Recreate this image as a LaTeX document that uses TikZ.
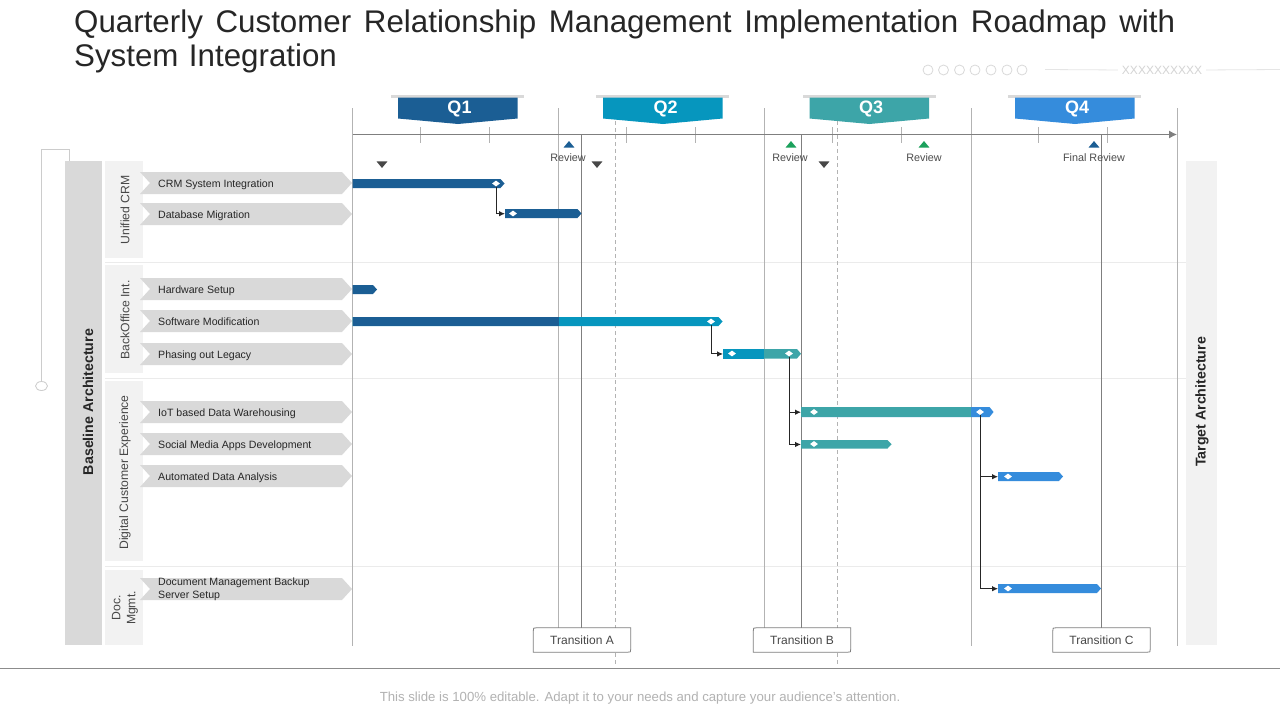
\documentclass[tikz,border=0pt]{standalone}
\usepackage{fontspec}
\setmainfont{Liberation Sans}
\usetikzlibrary{arrows.meta,shapes.geometric,shapes.misc,calc}
\definecolor{cqa}{HTML}{1B5E94}
\definecolor{cqb}{HTML}{0696BE}
\definecolor{cqc}{HTML}{3DA5A8}
\definecolor{cqd}{HTML}{358CDC}
\definecolor{chev}{HTML}{D9D9D9}
\definecolor{pale}{HTML}{F2F2F2}
\definecolor{txt}{HTML}{262626}
\definecolor{vline}{HTML}{B3B3B3}
\definecolor{dline}{HTML}{7F7F7F}
\definecolor{okgreen}{HTML}{1BA15C}
\tikzset{
  x=1pt,y=-1pt,
  every node/.style={font=\fontsize{10.6}{13}\selectfont,text=txt,inner sep=0pt},
  mark diamond/.style={diamond,fill=white,minimum width=8pt,minimum height=6pt},
  link/.style={draw=black!85,line width=1pt,-{Latex[length=6pt,width=5.5pt]}},
  grid light/.style={draw=vline,line width=.9pt},
  grid dark/.style={draw=dline,line width=.9pt},
  grid dash/.style={draw=vline,line width=.8pt,dash pattern=on 4pt off 3pt},
  tick mark/.style={draw=vline,line width=.8pt},
  sep line/.style={draw=black!8,line width=.8pt},
  review text/.style={font=\fontsize{10.8}{13}\selectfont,text=black!70},
  vert text/.style={rotate=90,font=\fontsize{12.2}{13}\selectfont,text=black!72,align=center},
  side text/.style={rotate=90,font=\bfseries\fontsize{14.2}{16}\selectfont,text=txt},
  transition box/.style={fill=white,minimum width=97pt,minimum height=24pt,font=\fontsize{12}{14}\selectfont,text=black!72},
  transition edge/.style={draw=dline,line width=.8pt},
  up mark/.style={isosceles triangle,isosceles triangle apex angle=80,shape border rotate=90,minimum height=6.5pt,minimum width=10pt},
  down mark/.style={isosceles triangle,isosceles triangle apex angle=80,shape border rotate=-90,minimum height=6.5pt,minimum width=10pt,fill=black!72},
  decor/.style={draw=black!20,line width=.8pt},
  dot/.style={circle,draw=black!15,line width=.8pt,minimum size=10pt},
  qtext/.style={font=\bfseries\fontsize{18}{20}\selectfont,text=white},
}
% chevron label: name, centre y, text
\newcommand{\chevlabel}[3]{%
  \fill[chev] (140,#2-11)--(342,#2-11)--(352,#2)--(342,#2+11)--(140,#2+11)--(150,#2)--cycle;
  \node[anchor=base west,align=left] (#1) at (158,#2+4.2) {#3};}
% bar: name, x1, x2, top, bottom, colour
\newcommand{\gbar}[6]{%
  \fill[#6] (#2,#4)--(#3-4,#4)--(#3,#4/2+#5/2)--(#3-4,#5)--(#2,#5)--cycle;
  \pgfmathsetmacro{\bw}{#3-#2}\pgfmathsetmacro{\bh}{#5-#4}
  \node[minimum width=\bw pt,minimum height=\bh pt,anchor=north west] (#1) at (#2,#4) {};}
% quarter header: name, x of band left, colour, text, text x
\newcommand{\qhead}[5]{%
  \fill[chev] (#2-7,95)rectangle(#2+126,97.5);
  \fill[#3] (#2,97.5)--(#2+119.5,97.5)--(#2+119.5,118.5)--(#2+60,124)--(#2,118.5)--cycle;
  \node[qtext] (#1) at (#5,109) {#4};}
\begin{document}
\begin{tikzpicture}
\useasboundingbox (0,0) rectangle (1280,720);
\fill[white] (0,0) rectangle (1280,720);

% title
\node[anchor=north west,text width=1101pt,align=left,font=\fontsize{31.3}{34}\selectfont,text=black!85] (title) at (74,10)
  {\hbox to 1101pt{Quarterly\hfill Customer\hfill Relationship\hfill Management\hfill Implementation\hfill Roadmap\hfill with}\\System Integration};

% top-right decoration
\foreach \i/\x in {1/928,2/943.5,3/959.5,4/975,5/991,6/1007,7/1022}
  \node[dot] (dot\i) at (\x,70) {};
\node[font=\fontsize{12}{14}\selectfont,text=black!17] (xs) at (1162,70) {XXXXXXXXXX};
\coordinate (decA) at (1045,69.5);
\coordinate (decB) at (1280,69.5);
\draw[draw=black!10,line width=.8pt,shorten >=4pt] (decA) -- (xs.west);
\draw[draw=black!10,line width=.8pt,shorten <=4pt] (xs.east) -- (decB);

% left panels
\fill[chev] (65,161) rectangle (102,645);
\node[side text] (base) at (88,402) {Baseline Architecture};
\fill[pale] (105,161) rectangle (143,258);
\fill[pale] (105,265) rectangle (143,373);
\fill[pale] (105,381) rectangle (143,561);
\fill[pale] (105,570) rectangle (143,645);
\node[vert text] (g1) at (125,210) {Unified CRM};
\node[vert text] (g2) at (125,320) {BackOffice Int.};
\node[vert text] (g3) at (125,472.5) {Digital Customer Experience};
\node[vert text,font=\fontsize{12.2}{15}\selectfont] (g4) at (125,608) {Doc.\\Mgmt.};
\fill[pale] (1186,161) rectangle (1217,645);
\node[side text] (target) at (1202,402) {Target Architecture};

% left bracket
\node[ellipse,draw=black!20,line width=.8pt,minimum width=12pt,minimum height=9pt] (ring) at (41.5,386) {};
\coordinate (brk) at (69,161);
\draw[decor] (ring.north) |- (69,149.5) -- (brk);

% row separators
\foreach \y in {262.5,378.5,566.5}
  \draw[sep line] (105,\y) -- (1186,\y);

% grid
\foreach \n/\x/\b in {a/352.5/646,b/558.5/628,c/764.5/628,d/971/646,e/1177/646}{
  \coordinate (gt\n) at (\x,108);
  \coordinate (gb\n) at (\x,\b);
  \draw[grid light] (gt\n) -- (gb\n);
}
\foreach \n/\x in {a/615,b/837}{
  \coordinate (dt\n) at (\x,121);
  \coordinate (db\n) at (\x,666);
  \draw[grid dash] (dt\n) -- (db\n);
}
\foreach \x in {420.5,489,558.5,626,695,764.5,832,901,971,1038,1107}
  \draw[tick mark] (\x,127) -- (\x,143);

% axis
\coordinate (ax0) at (352.5,134.5);
\coordinate (ax1) at (1177,134.5);
\draw[draw=dline,line width=1pt,-{Latex[length=8pt,width=8pt]}] (ax0) -- (ax1);

% quarter headers
\qhead{q1}{398}{cqa}{Q1}{459.5}
\qhead{q2}{603}{cqb}{Q2}{665.5}
\qhead{q3}{809.5}{cqc}{Q3}{871}
\qhead{q4}{1015}{cqd}{Q4}{1077}

% transitions
\node[transition box] (ta) at (582,640) {Transition A};
\node[transition box] (tb) at (802,640) {Transition B};
\node[transition box] (tc) at (1101.5,640) {Transition C};
\foreach \n in {ta,tb,tc}
  \draw[transition edge] ($(\n.north west)+(3,0)$) -- (\n.north east) -- ($(\n.south east)+(0,-3)$)
    .. controls (\n.south east) .. ($(\n.south east)+(-3,0)$) -- (\n.south west) -- ($(\n.north west)+(0,3)$)
    .. controls (\n.north west) .. ($(\n.north west)+(3,0)$);
\coordinate (tat) at (581,135);
\coordinate (tbt) at (801,135);
\coordinate (tct) at (1101,135);
\draw[grid dark] (tat) -- (tat |- ta.north);
\draw[grid dark] (tbt) -- (tbt |- tb.north);
\draw[grid dark] (tct) -- (tct |- tc.north);

% review marks
\node[up mark,fill=cqa] (m1) at (569,145) {};
\node[up mark,fill=okgreen] (m2) at (791,145) {};
\node[up mark,fill=okgreen] (m3) at (924,145) {};
\node[up mark,fill=cqa] (m4) at (1094,145) {};
\node[review text] (r1) at (568,157.3) {Review};
\node[review text] (r2) at (790,157.3) {Review};
\node[review text] (r3) at (924,157.3) {Review};
\node[review text] (r4) at (1094,157.3) {Final Review};
\node[down mark] (v1) at (382,164) {};
\node[down mark] (v2) at (597,164) {};
\node[down mark] (v3) at (824,164) {};

% chevron labels
\chevlabel{l1}{183}{CRM  System Integration}
\chevlabel{l2}{214}{Database Migration}
\chevlabel{l3}{289}{Hardware Setup}
\chevlabel{l4}{321}{Software Modification}
\chevlabel{l5}{354}{Phasing out Legacy}
\chevlabel{l6}{412}{IoT based Data Warehousing}
\chevlabel{l7}{444}{Social Media Apps Development}
\chevlabel{l8}{476}{Automated Data Analysis}
\fill[chev] (140,578)--(342,578)--(352,589)--(342,600)--(140,600)--(150,589)--cycle;
\node[anchor=west,align=left] (l9) at (158,589) {Document Management Backup\\Server Setup};

% bars
\gbar{b1}{352.5}{504.5}{179}{188}{cqa}
\gbar{b2}{505}{581.5}{209}{218}{cqa}
\gbar{b3}{352.5}{377}{285}{294}{cqa}
\gbar{b4}{352.5}{722.5}{317}{326}{cqb}
\fill[cqa] (352.5,317) rectangle (558.5,326);
\gbar{b5}{723}{801}{349}{358.5}{cqc}
\fill[cqb] (723,349) rectangle (764,358.5);
\gbar{b6}{801}{993.5}{407}{417}{cqd}
\fill[cqc] (801,407) rectangle (970.5,417);
\gbar{b7}{801}{891.5}{440}{448.5}{cqc}
\gbar{b8}{998}{1063}{472}{481}{cqd}
\gbar{b9}{998}{1101}{584}{593}{cqd}

% diamonds
\node[mark diamond] (d1) at (496,183.5) {};
\node[mark diamond] (d2) at (513,213.5) {};
\node[mark diamond] (d4) at (711,321.5) {};
\node[mark diamond] (d5a) at (732,353.5) {};
\node[mark diamond] (d5b) at (789,353.5) {};
\node[mark diamond] (d6a) at (814,412) {};
\node[mark diamond] (d6b) at (980,412) {};
\node[mark diamond] (d7) at (814,444) {};
\node[mark diamond] (d8) at (1008,476.5) {};
\node[mark diamond] (d9) at (1008,588.5) {};

% connectors
\draw[link] (d1.south) |- (b2.west);
\draw[link] (d4.south) |- (b5.west);
\draw[link] (d5b.south) |- (b6.west);
\draw[link] (d5b.south) |- (b7.west);
\draw[link] (d6b.south) |- (b8.west);
\draw[link] (d6b.south) |- (b9.west);

% footer
\coordinate (fa) at (0,668.5);
\coordinate (fb) at (1280,668.5);
\draw[draw=black!45,line width=1pt] (fa) -- (fb);
\node[font=\fontsize{13.2}{15}\selectfont,text=black!30] (foot) at (640,698.5) {This slide is 100\% editable. Adapt it to your needs and capture your audience's attention.};
\end{tikzpicture}
\end{document}
